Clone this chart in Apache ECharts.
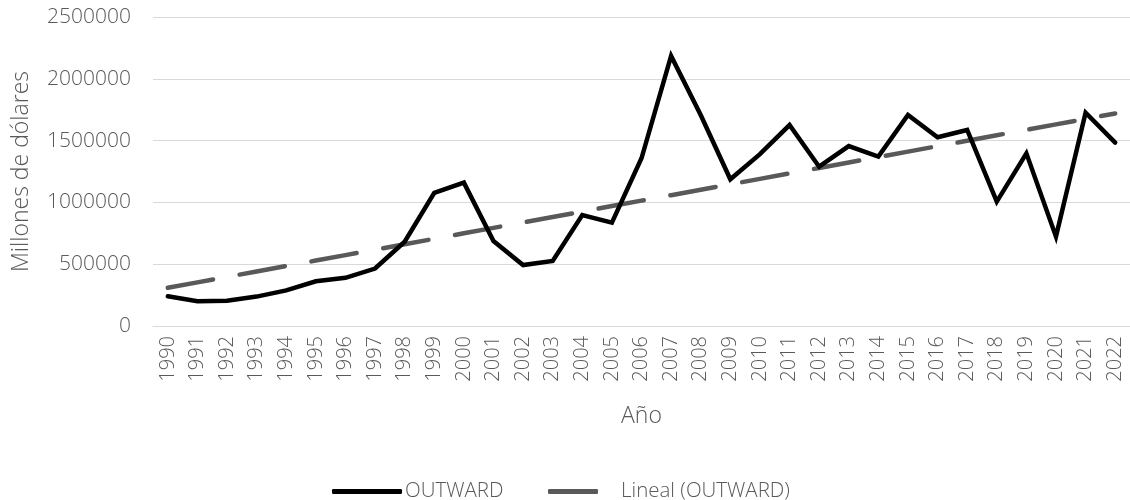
<!DOCTYPE html>
<html><head><meta charset="utf-8">
<script src="https://cdn.jsdelivr.net/npm/echarts@6/dist/echarts.min.js"></script>
<style>html,body{margin:0;padding:0;background:#fff}#c{width:1130px;height:500px}</style>
</head><body><div id="c"></div>
<script>
const years = ['1990','1991','1992','1993','1994','1995','1996','1997','1998','1999','2000','2001','2002','2003','2004','2005','2006','2007','2008','2009','2010','2011','2012','2013','2014','2015','2016','2017','2018','2019','2020','2021','2022'];
const outward = [240000,200000,205000,238000,288000,362000,390000,465000,682000,1078000,1160000,688000,493000,526000,898000,836000,1357000,2185000,1707000,1187000,1390000,1626000,1289000,1456000,1370000,1707000,1527000,1586000,1006000,1397000,723000,1726000,1483000];
const yTicks = [0,500000,1000000,1500000,2000000,2500000];

// linear trend (least squares) from the series
const n = outward.length;
let sx=0, sy=0, sxx=0, sxy=0;
outward.forEach((v,i)=>{sx+=i;sy+=v;sxx+=i*i;sxy+=i*v;});
const slope = (n*sxy - sx*sy)/(n*sxx - sx*sx);
const icpt = (sy - slope*sx)/n;
const trend = outward.map((v,i)=>icpt + slope*i);

const font = "'Open Sans', sans-serif";
const txt = '#595959';
const fw = 300;
const chart = echarts.init(document.getElementById('c'));
chart.setOption({
  animation:false,
  grid:{left:153,right:0,top:17,bottom:174},
  xAxis:{type:'category',data:years,boundaryGap:true,
    axisLine:{lineStyle:{color:'#d9d9d9',width:1}},axisTick:{show:false},
    axisLabel:{rotate:90,color:txt,fontFamily:font,fontWeight:fw,fontSize:20,margin:10},
    name:'Año',nameLocation:'middle',nameGap:79,
    nameTextStyle:{color:txt,fontFamily:font,fontWeight:fw,fontSize:23}},
  yAxis:{type:'value',min:0,max:2500000,interval:500000,
    axisLine:{show:false},axisTick:{show:false},
    splitLine:{lineStyle:{color:'#d9d9d9',width:1}},
    axisLabel:{color:txt,fontFamily:font,fontWeight:fw,fontSize:21,margin:22,
      formatter:v=>yTicks.includes(v)?String(v):''},
    name:'Millones de dólares',nameLocation:'middle',nameGap:120,nameRotate:90,
    nameTextStyle:{color:txt,fontFamily:font,fontWeight:fw,fontSize:23}},
  legend:[
    {data:[{name:'OUTWARD',icon:'roundRect'}],left:327,top:476,itemWidth:70,itemHeight:5,
     textStyle:{color:txt,fontFamily:font,fontWeight:fw,fontSize:20.5,padding:[0,0,0,-2]}},
    {data:[{name:'Lineal (OUTWARD)',icon:'roundRect'}],left:543,top:476,itemWidth:50,itemHeight:5,
     textStyle:{color:txt,fontFamily:font,fontWeight:fw,fontSize:20.5,padding:[0,0,0,18]}}
  ],
  series:[
    {name:'OUTWARD',type:'line',data:outward,symbol:'none',
     lineStyle:{color:'#000',width:4.5,cap:'round',join:'miter'},itemStyle:{color:'#000'},z:3},
    {name:'Lineal (OUTWARD)',type:'line',data:trend,symbol:'none',
     lineStyle:{color:'#595959',width:4.5,type:[46,27],cap:'round'},itemStyle:{color:'#595959'},z:2}
  ]
});
</script></body></html>
